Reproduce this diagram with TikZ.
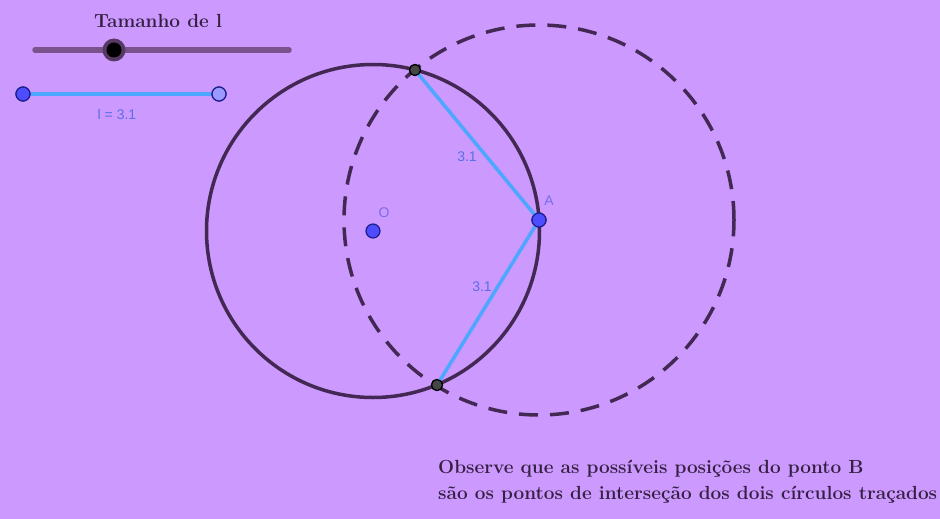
\documentclass[tikz,border=0pt]{standalone}
\usepackage{fontspec}
\newfontfamily\lblfont{Liberation Sans}
\definecolor{bg}{RGB}{204,153,255}
\definecolor{circ}{RGB}{66,40,82}
\definecolor{seg}{RGB}{77,166,255}
\definecolor{ptblue}{RGB}{77,77,255}
\definecolor{ptlight}{RGB}{153,153,255}
\definecolor{ptedge}{RGB}{30,30,140}
\definecolor{lbl}{RGB}{90,110,230}
\definecolor{ilbl}{RGB}{120,110,235}
\definecolor{slider}{RGB}{122,82,140}
\definecolor{ipt}{RGB}{70,70,70}
\tikzset{
  circline/.style={draw=circ,line width=3.5pt},
  dashcirc/.style={draw=circ,line width=3.5pt,dash pattern=on 19pt off 12pt},
  segline/.style={draw=seg,line width=3.5pt},
  bluept/.style={circle,fill=ptblue,draw=ptedge,line width=1.2pt,inner sep=0pt,minimum size=14pt},
  lightpt/.style={circle,fill=ptlight,draw=ptedge,line width=1.2pt,inner sep=0pt,minimum size=14pt},
  interpt/.style={circle,fill=ipt,draw=black,line width=1.2pt,inner sep=0pt,minimum size=11pt},
  numlbl/.style={text=lbl,font=\lblfont\fontsize{14}{16}\selectfont,inner sep=0pt},
  ptlbl/.style={text=ilbl,font=\lblfont\fontsize{14}{16}\selectfont,inner sep=0pt},
  bigtxt/.style={text=circ!80!black,font=\bfseries\fontsize{19}{23}\selectfont,inner sep=0pt,anchor=base west},
}
\begin{document}
\begin{tikzpicture}[x=1pt,y=-1pt]
\fill[bg] (0,0) rectangle (940,519);
\useasboundingbox (0,0) rectangle (940,519);
% slider
\node[bigtxt,anchor=base] (title) at (158,28) {Tamanho de l};
\coordinate (sl) at (35,50);
\coordinate (sr) at (289,50);
\draw[slider,line width=5.5pt,line cap=round] (sl) -- (sr);
\node[circle,fill=slider!70!black,inner sep=0pt,minimum size=23pt] (knobhalo) at (114,50) {};
\node[circle,fill=black,inner sep=0pt,minimum size=15pt] (knob) at (114,50) {};
% segment l
\node[bluept] (p1) at (23,94) {};
\node[lightpt] (p2) at (219,94) {};
\draw[segline] (p1) -- (p2);
\node[bluept] at (p1) {};
\node[lightpt] at (p2) {};
\node[numlbl] (llbl) at (117,114) {l = 3.1};
% circles
\coordinate (Oc) at (373,231);
\coordinate (Ac) at (539,220);
\draw[circline] (Oc) circle (166.5pt);
\draw[dashcirc] (Ac) circle (195pt);
% segments
\node[interpt] (B1) at (415,70) {};
\node[interpt] (B2) at (437,385) {};
\node[bluept] (A) at (Ac) {};
\draw[segline] (A.center) -- (B1.center);
\draw[segline] (A.center) -- (B2.center);
\node[interpt] at (B1) {};
\node[interpt] at (B2) {};
\node[bluept] (O) at (Oc) {};
\node[bluept] at (Ac) {};
\node[numlbl] (d1) at (467,157) {3.1};
\node[numlbl] (d2) at (482,287) {3.1};
\node[ptlbl] (Olbl) at (384,213) {O};
\node[ptlbl] (Albl) at (549,201) {A};
% text
\node[bigtxt] (t1) at (438,473) {Observe que as possíveis posições do ponto B};
\node[bigtxt] (t2) at (438,499) {são os pontos de interseção dos dois círculos traçados};
\end{tikzpicture}
\end{document}
